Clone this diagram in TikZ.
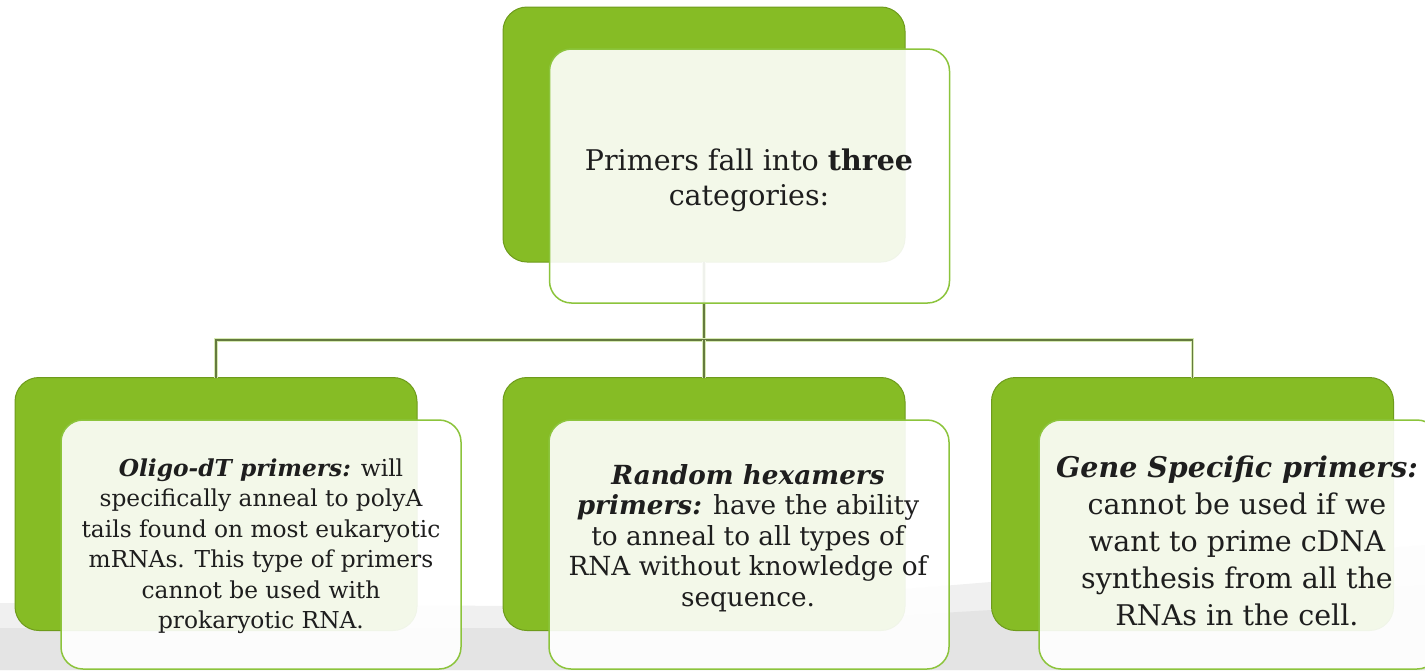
\documentclass[tikz,border=0pt]{standalone}
\usepackage{fontspec}
\setmainfont{DejaVu Serif}
\definecolor{leaf}{HTML}{86BC25}
\definecolor{leafdark}{HTML}{6E9B1C}
\definecolor{frontline}{HTML}{8CC43C}
\definecolor{conn}{HTML}{657A3E}
\definecolor{connhalo}{HTML}{D6EAB2}
\definecolor{bandlight}{HTML}{F0F0F0}
\definecolor{banddark}{HTML}{E4E4E4}
\definecolor{ink}{HTML}{1E1E1E}
\tikzset{
  backbox/.style={draw=leafdark, line width=1pt, fill=leaf, rounded corners=24pt,
    minimum width=402pt, minimum height=253pt, inner sep=0pt, outer sep=0pt},
  frontbox/.style={draw=frontline, line width=1.5pt, fill=white, fill opacity=0.9,
    rounded corners=22pt, minimum width=400pt, minimum height=249pt, inner sep=0pt, outer sep=0pt},
  boxtext/.style={align=center, text=ink, inner sep=0pt},
  link/.style={draw=conn, line width=1.8pt, preaction={draw=connhalo, line width=3.2pt}},
}
\begin{document}
\begin{tikzpicture}[x=1pt, y=-1pt]
\clip (0,0) rectangle (1425,670);
\fill[white] (0,0) rectangle (1425,670);
% background band
\fill[bandlight] (0,603) -- (520,606) .. controls (800,606) and (1100,570) .. (1425,545) -- (1425,670) -- (0,670) -- cycle;
\fill[banddark] (0,628) -- (520,628) .. controls (800,628) and (1100,600) .. (1425,585) -- (1425,670) -- (0,670) -- cycle;
% back boxes
\node[backbox, minimum height=255pt] (tb) at (704,134.5) {};
\node[backbox] (lb) at (216,504) {};
\node[backbox] (mb) at (704,504) {};
\node[backbox] (rb) at (1192.5,504) {};
% connectors
\coordinate (j) at (704,340);
\draw[link] (tb.south) -- (j);
\draw[link] (lb.north) |- (j) -| (rb.north);
\draw[link] (j) -- (mb.north);
% front boxes
\node[frontbox, minimum height=254pt] (tf) at (749.5,176) {};
\node[frontbox] (lf) at (261,544.5) {};
\node[frontbox] (mf) at (749,544.5) {};
\node[frontbox] (rf) at (1239,544.5) {};
% texts
\node[boxtext, font={\fontsize{28.5}{35}\selectfont}] (tt) at (749,180)
  {Primers fall into \textbf{three}\\categories:};
\node[boxtext, font={\fontsize{23.3}{30.5}\selectfont}] (lt) at (261,546)
  {\textbf{\textit{Oligo-dT primers:}} will\\specifically anneal to polyA\\tails found on most eukaryotic\\mRNAs. This type of primers\\cannot be used with\\prokaryotic RNA.};
\node[boxtext, font={\fontsize{26.3}{30.5}\selectfont}] (mt) at (748,538)
  {\textbf{\textit{Random hexamers}}\\\textbf{\textit{primers:}} have the ability\\to anneal to all types of\\RNA without knowledge of\\sequence.};
\node[boxtext, font={\fontsize{28.5}{37}\selectfont}] (rt) at (1237,541)
  {\textbf{\textit{Gene Specific primers:}}\\cannot be used if we\\want to prime cDNA\\synthesis from all the\\RNAs in the cell.};
\end{tikzpicture}
\end{document}
